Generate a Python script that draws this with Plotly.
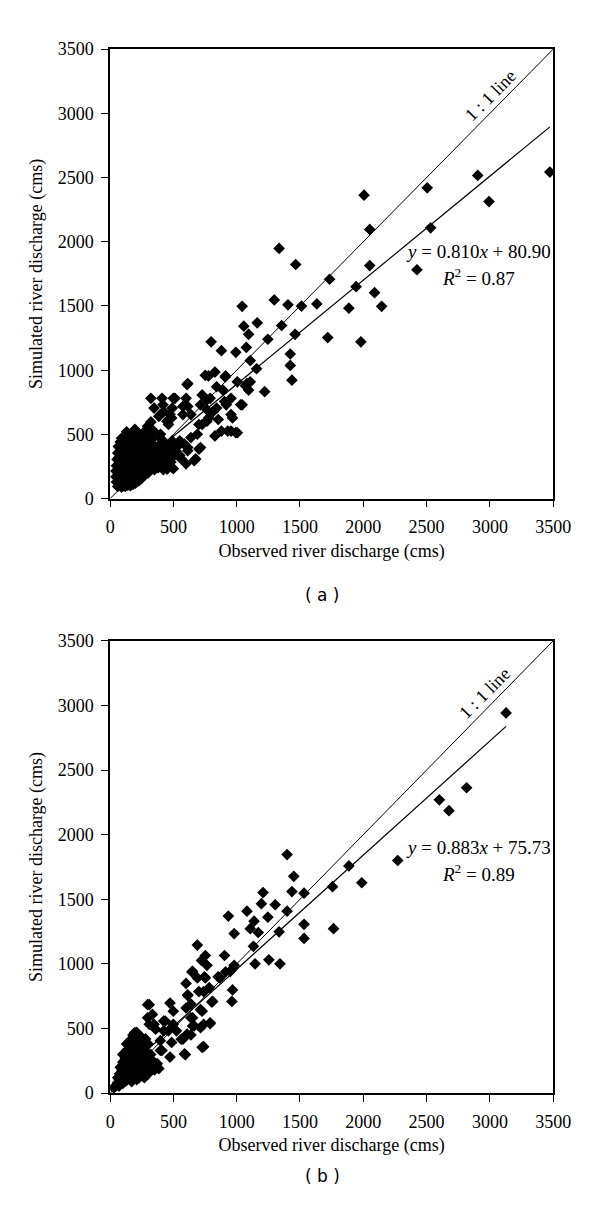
import plotly.graph_objects as go

# panel (a): observed vs simulated discharge (cms)
obs_a = [2006, 2505, 2904, 3474, 2993, 2051, 2532, 2051, 2424, 1335, 1466, 1734, 1512, 1633, 1943, 2089, 1886, 2145, 1719, 1981,
         1297, 1043, 1405, 1461, 1056, 1162, 1094, 1355, 1246, 798, 879, 993, 1076, 1107, 1157, 1423, 1423, 1436, 1221, 752,
         828, 909, 1005, 1081, 1094, 613, 891, 955, 1031, 727, 765, 841, 904, 967, 1005, 955, 828, 879, 777, 727,
         689, 702, 664, 613, 600, 499, 512, 613, 600, 486, 423, 322, 410, 347, 385, 448, 195, 296, 322, 398,
         550, 524, 550, 608, 777, 912, 841, 1069, 1107, 203, 279, 322, 397, 473, 461, 575, 638, 714, 790, 765,
         815, 854, 917, 955, 1043, 993, 929, 765, 701, 714, 676, 613, 638, 562, 486, 587, 499, 491, 575, 418,
         60, 75, 90, 105, 120, 140, 160, 180, 200,
         50, 70, 85, 100, 115, 130, 150, 170, 190, 210, 230, 250,
         45, 60, 80, 95, 110, 125, 145, 160, 180, 200, 225, 250, 275, 300,
         45, 65, 80, 100, 120, 135, 155, 175, 195, 215, 240, 265, 290, 320, 350, 380, 420, 450,
         50, 70, 90, 105, 125, 145, 165, 185, 205, 230, 255, 280, 310, 340, 370, 400, 440, 480,
         55, 70, 90, 110, 130, 150, 170, 195, 215, 240, 265, 290, 320, 350, 380, 420, 460,
         60, 80, 95, 115, 135, 160, 185, 210, 235, 260, 290, 320, 350, 390,
         65, 85, 105, 125, 150, 175, 200, 230, 260, 300, 340,
         80, 110, 140, 170, 210, 250, 300,
         210, 230, 250, 270, 290, 310, 330, 350, 370, 390, 410, 430, 450, 470, 490, 220, 240, 260, 280, 300,
         320, 340, 360, 380, 400, 420, 440, 460, 500, 520, 200, 180, 150, 120, 100, 90, 130, 230, 270, 340]
sim_a = [2363, 2420, 2517, 2543, 2313, 2096, 2109, 1815, 1782, 1948, 1823, 1708, 1499, 1516, 1650, 1604, 1483, 1497, 1254, 1221,
         1547, 1497, 1509, 1279, 1343, 1369, 1279, 1348, 1241, 1221, 1152, 1139, 1177, 1075, 1011, 1126, 1037, 922, 833, 960,
         985, 947, 909, 896, 845, 896, 845, 781, 731, 807, 769, 705, 756, 628, 513, 526, 488, 526, 628, 577,
         501, 386, 296, 398, 271, 233, 781, 718, 781, 628, 679, 781, 781, 705, 641, 603, 539, 564, 475, 501,
         450, 398, 335, 888, 955, 955, 871, 878, 909, 531, 506, 597, 654, 654, 577, 654, 654, 730, 781, 692,
         679, 616, 730, 654, 730, 513, 526, 603, 577, 398, 309, 373, 475, 309, 245, 424, 781, 705, 718, 730,
         95, 110, 90, 100, 95, 105, 100, 110, 120,
         130, 140, 125, 135, 150, 130, 140, 135, 145, 150, 140, 160,
         170, 180, 165, 175, 185, 165, 175, 190, 170, 180, 175, 190, 185, 200,
         215, 205, 225, 210, 220, 200, 215, 225, 210, 225, 215, 230, 220, 235, 225, 240, 225, 230,
         255, 265, 250, 270, 260, 275, 255, 270, 260, 275, 265, 280, 270, 285, 275, 290, 300, 285,
         305, 320, 300, 315, 330, 305, 320, 310, 330, 315, 335, 320, 335, 325, 345, 340, 330,
         355, 370, 350, 365, 380, 355, 370, 360, 380, 365, 385, 370, 390, 375,
         405, 395, 420, 400, 415, 425, 405, 420, 410, 430, 420,
         440, 455, 445, 470, 460, 480, 470,
         200, 250, 300, 350, 400, 450, 280, 320, 360, 420, 460, 380, 340, 400, 450, 330, 400, 440, 300, 260,
         390, 470, 250, 300, 340, 260, 420, 370, 330, 370, 450, 500, 480, 470, 430, 470, 520, 500, 520, 530]

# panel (b)
obs_b = [3128, 2816, 2601, 2677, 2272, 1886, 1532, 1757, 1988, 1532, 1532, 1765, 1398, 1451, 1436, 1398, 1208, 1195, 1304, 1081,
         934, 1137, 1246, 1107, 1170, 980, 1335, 1132, 689, 752, 722, 765, 904, 980, 950, 1145, 1254, 1342, 651, 689,
         752, 600, 613, 701, 783, 866, 967, 962, 803, 727, 600, 651, 739, 790, 664, 727, 595, 638, 575, 473,
         499, 435, 499, 524, 423, 486, 397, 473, 372, 296, 296, 347, 195, 309, 423, 334, 309, 359, 461, 397,
         587, 410, 385, 334, 739, 608, 714, 651, 562, 638, 714, 790, 810, 739, 613, 646, 745, 854, 912, 967, 638,
         30, 45, 60, 70, 85, 100, 110, 125, 140, 155, 170, 190, 210,
         75, 95, 115, 130, 150, 170, 190, 210, 230, 250, 270, 300,
         100, 120, 140, 160, 180, 200, 220, 240, 260, 285, 320, 350,
         130, 150, 170, 190, 210, 230, 250, 270, 300, 330,
         150, 175, 200, 220, 245, 270, 290, 180, 210, 240, 260, 150, 125, 110,
         100, 130, 160, 200, 230, 260, 280, 300, 320, 200, 250, 180, 230, 60, 80]
sim_b = [2942, 2363, 2270, 2186, 1800, 1758, 1547, 1598, 1628, 1306, 1197, 1273, 1846, 1678, 1560, 1408, 1552, 1466, 1458, 1408,
         1370, 1331, 1362, 1273, 1243, 1235, 1248, 1136, 1146, 1065, 1027, 989, 1065, 989, 943, 1001, 1032, 1001, 943, 892,
         892, 849, 755, 786, 816, 892, 799, 710, 705, 634, 659, 583, 533, 537, 520, 355, 299, 451, 418, 697,
         634, 558, 533, 482, 482, 393, 330, 279, 228, 685, 583, 533, 469, 685, 558, 609, 533, 495, 482, 406,
         304, 330, 190, 253, 360, 457, 507, 520, 418, 583, 647, 545, 710, 786, 761, 938, 900, 900, 938, 963, 689,
         40, 60, 80, 55, 100, 75, 120, 95, 140, 110, 90, 130, 105,
         150, 175, 160, 200, 180, 160, 210, 185, 160, 140, 120, 150,
         240, 270, 250, 230, 280, 255, 235, 215, 200, 190, 210, 180,
         330, 310, 350, 320, 300, 340, 280, 260, 250, 240,
         400, 380, 420, 390, 360, 330, 310, 450, 470, 440, 410, 370, 300, 210,
         300, 380, 280, 350, 280, 350, 420, 380, 300, 200, 230, 130, 120, 120, 200]

fit_a = (0.810, 80.90)
fit_b = (0.883, 75.73)
eq_a = ["<i>y</i> = 0.810<i>x</i> + 80.90", "<i>R</i><sup>2</sup> = 0.87"]
eq_b = ["<i>y</i> = 0.883<i>x</i> + 75.73", "<i>R</i><sup>2</sup> = 0.89"]
ticks = [0, 500, 1000, 1500, 2000, 2500, 3000, 3500]

SERIF = "Liberation Serif"


def add_panel(fig, obs, sim, fit, eq, n, eq_y, one_pos):
    xa = "x" if n == 1 else "x%d" % n
    ya = "y" if n == 1 else "y%d" % n
    # 1:1 line
    fig.add_trace(go.Scatter(x = [0, 3500], y = [0, 3500], mode = "lines",
                             line = dict(color = "black", width = 1), xaxis = xa, yaxis = ya))
    fig.add_trace(go.Scatter(x = obs, y = sim, mode = "markers",
                             marker = dict(symbol = "diamond", size = 9, color = "black"),
                             xaxis = xa, yaxis = ya))
    # fitted regression line over the observed range
    lo, hi = min(obs), max(obs)
    fig.add_trace(go.Scatter(x = [lo, hi], y = [fit[0] * lo + fit[1], fit[0] * hi + fit[1]], mode = "lines",
                             line = dict(color = "black", width = 1.2), xaxis = xa, yaxis = ya))
    fig.add_annotation(x = one_pos[0], y = one_pos[1], xref = xa, yref = ya, text = "1 : 1 line",
                       showarrow = False, textangle = -45, font = dict(family = SERIF, size = 18, color = "black"))
    fig.add_annotation(x = 2910, y = eq_y, xref = xa, yref = ya, text = eq[0], showarrow = False,
                       font = dict(family = SERIF, size = 19, color = "black"))
    fig.add_annotation(x = 2910, y = eq_y - 200, xref = xa, yref = ya, text = eq[1], showarrow = False,
                       font = dict(family = SERIF, size = 19, color = "black"))


fig = go.Figure()
add_panel(fig, obs_a, sim_a, fit_a, eq_a, 1, 1928, (3010, 3140))
add_panel(fig, obs_b, sim_b, fit_b, eq_b, 2, 1904, (2960, 3095))

axis_style = dict(range = [0, 3500], tickvals = ticks, showgrid = False, zeroline = False,
                  showline = True, linecolor = "black", linewidth = 1.5, mirror = True,
                  ticks = "outside", ticklen = 7, tickcolor = "black", tickwidth = 1.2,
                  ticklabelstandoff = 4,
                  tickfont = dict(family = SERIF, size = 18, color = "black"))
xdom = [101 / 600, 561.7 / 600]
xt = dict(text = "Observed river discharge (cms)", font = dict(family = SERIF, size = 18, color = "black"), standoff = 8)
yt = dict(text = "Simulated river discharge (cms)", font = dict(family = SERIF, size = 18, color = "black"), standoff = 10)

fig.update_layout(
    width = 600, height = 1206, autosize = False, showlegend = False,
    margin = dict(l = 0, r = 0, t = 0, b = 0),
    plot_bgcolor = "white", paper_bgcolor = "white",
    xaxis = dict(axis_style, domain = xdom, anchor = "y", title = xt),
    yaxis = dict(axis_style, domain = [1 - 488.7 / 1206, 1 - 31.7 / 1206], anchor = "x", title = yt),
    xaxis2 = dict(axis_style, domain = xdom, anchor = "y2", title = xt),
    yaxis2 = dict(axis_style, domain = [1 - 1093.3 / 1206, 1 - 633.3 / 1206], anchor = "x2", title = yt),
)

fig.add_annotation(x = 322 / 600, y = 1 - 587 / 1206, xref = "paper", yref = "paper", text = "( a )",
                   showarrow = False, font = dict(family = "DejaVu Sans", size = 17, color = "black"))
fig.add_annotation(x = 322 / 600, y = 1 - 1190 / 1206, xref = "paper", yref = "paper", text = "( b )",
                   showarrow = False, font = dict(family = "DejaVu Sans", size = 17, color = "black"))

fig.write_html("out.html")
